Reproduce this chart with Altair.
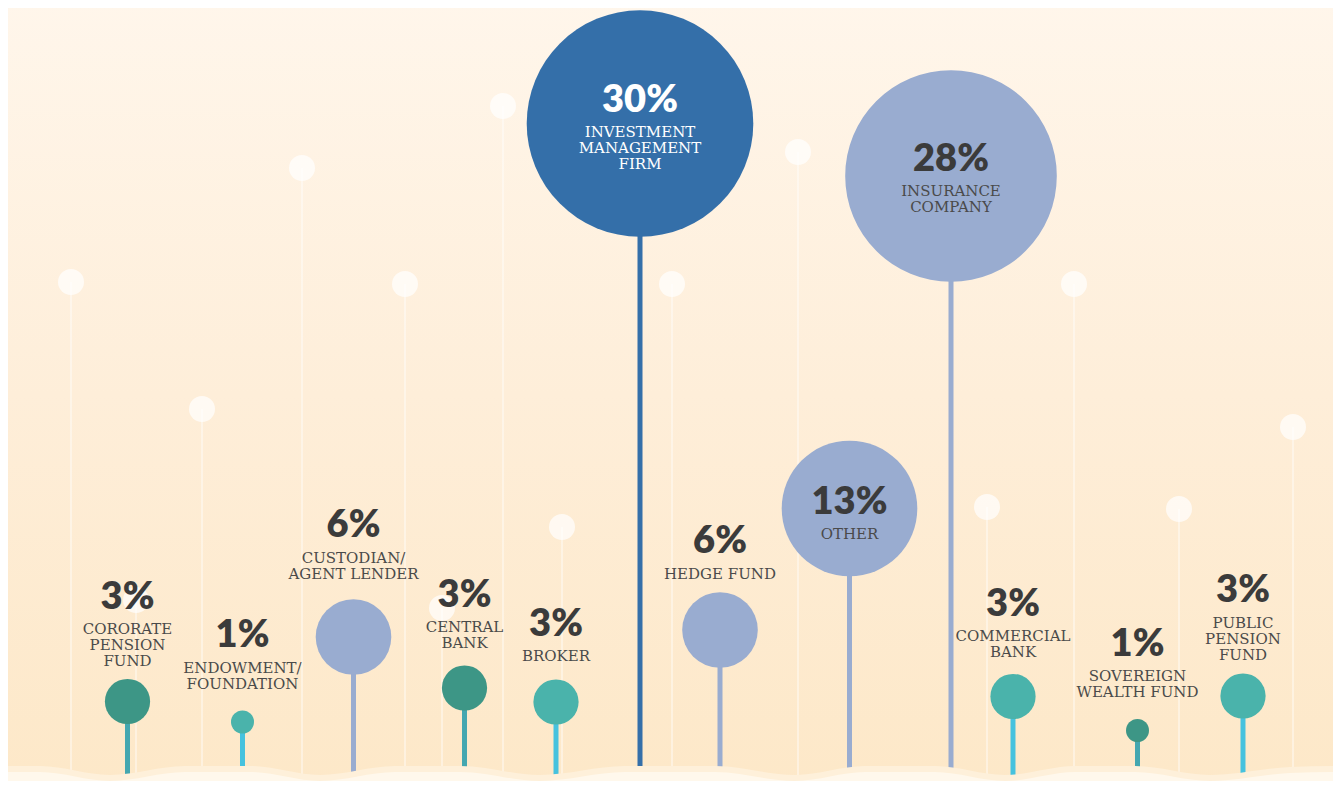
import altair as alt
import pandas as pd

# ---------------- data ----------------
categories = [
    "CORORATE\nPENSION\nFUND",
    "ENDOWMENT/\nFOUNDATION",
    "CUSTODIAN/\nAGENT LENDER",
    "CENTRAL\nBANK",
    "BROKER",
    "INVESTMENT\nMANAGEMENT\nFIRM",
    "HEDGE FUND",
    "OTHER",
    "INSURANCE\nCOMPANY",
    "COMMERCIAL\nBANK",
    "SOVEREIGN\nWEALTH FUND",
    "PUBLIC\nPENSION\nFUND",
]
shares = [3, 1, 6, 3, 3, 30, 6, 13, 28, 3, 1, 3]
kinds = ["tealdark", "teal", "lavender", "tealdark", "teal", "blue",
         "lavender", "lavender", "lavender", "teal", "tealdark", "teal"]

# ---------------- layout (1341x789 frame) ----------------
pos_x = [127.5, 242.5, 353.5, 464.5, 556, 640, 720, 849.5, 951, 1013, 1137.5, 1243]
bubble_y = [701.5, 722, 637, 688, 702, 123.5, 630, 508.5, 176, 696.5, 730.5, 696]
label_y = [595.5, 634, 524, 593.5, 622.5, 98.5, 540, 500.5, 157.5, 602.5, 642.5, 589]

deco_x = [71, 136, 202, 302, 405, 442, 503, 562, 672, 798, 987, 1074, 1179, 1293]
deco_y = [282, 600, 409, 168, 284, 608, 106, 527, 284, 152, 507, 284, 509, 427]

wave_x = [0, 40, 110, 185, 250, 320, 395, 460, 540, 625, 715, 795, 865, 935,
          1005, 1075, 1135, 1210, 1290, 1341]
wave_y = [772, 772, 781, 772, 772, 781, 772, 772, 781, 772, 772, 781, 772, 772,
          781, 772, 772, 781, 773, 772]

W, H = 1325, 773
X0, Y0 = 8, 8
X1, Y1 = X0 + W, Y0 + H
xs = alt.Scale(domain=[X0, X1], nice=False, zero=False)
ys = alt.Scale(domain=[Y0, Y1], nice=False, zero=False, reverse=True)

kind_dom = ["tealdark", "teal", "lavender", "blue"]
fill_rng = ["#3d9686", "#4ab3ab", "#99acd0", "#346fa9"]
stem_rng = ["#44a7b0", "#46c2de", "#99acd0", "#346fa9"]

main = pd.DataFrame({
    "cat": categories, "share": shares, "kind": kinds,
    "x": pos_x, "y": bubble_y, "ly": label_y, "bottom": Y1 + 20,
})
main["pct"] = main["share"].astype(str) + "%"
main["tc"] = ["#ffffff" if k == "blue" else "#3b3b3b" for k in kinds]

rows = []
for c, k, x, ly in zip(categories, kinds, pos_x, label_y):
    for i, line in enumerate(c.split("\n")):
        rows.append({"line": line, "x": x, "y": ly + 32.5 + 16 * i,
                     "tc": "#ffffff" if k == "blue" else "#4a4a4a"})
lines = pd.DataFrame(rows)

deco = pd.DataFrame({"x": deco_x, "y": deco_y, "bottom": Y1 + 20})

wave = pd.DataFrame({"x": wave_x, "y": wave_y, "bottom": Y1 + 20})
wave["y_outer"] = wave["y"] - 6

bg = pd.DataFrame({"x": [0], "x2": [1341], "y": [0], "y2": [789]})

X = lambda f: alt.X(f, type="quantitative", scale=xs, axis=None)
Y = lambda f: alt.Y(f, type="quantitative", scale=ys, axis=None)

background = alt.Chart(bg).mark_rect(
    clip=True,
    color=alt.Gradient(
        gradient="linear",
        stops=[alt.GradientStop(color="#fff6eb", offset=0),
               alt.GradientStop(color="#feeed9", offset=0.5),
               alt.GradientStop(color="#fde8c8", offset=1)],
        x1=0, x2=0, y1=0, y2=1,
    ),
).encode(x=X("x"), x2="x2", y=Y("y"), y2="y2")

deco_stems = alt.Chart(deco).mark_rule(clip=True, color="#ffffff", strokeWidth=1.5, opacity=0.55).encode(
    x=X("x"), y=Y("y"), y2="bottom")
deco_dots = alt.Chart(deco).mark_circle(color="#ffffff", opacity=0.7, size=676).encode(
    x=X("x"), y=Y("y"))

stems = alt.Chart(main).mark_rule(clip=True, strokeWidth=5).encode(
    x=X("x"), y=Y("y"), y2="bottom",
    color=alt.Color("kind:N", scale=alt.Scale(domain=kind_dom, range=stem_rng), legend=None))

bubbles = alt.Chart(main).mark_circle(opacity=1).encode(
    x=X("x"), y=Y("y"),
    fill=alt.Fill("kind:N", scale=alt.Scale(domain=kind_dom, range=fill_rng), legend=None),
    size=alt.Size("share:Q", legend=None,
                  scale=alt.Scale(type="linear", zero=False,
                                  domain=[1, 3, 6, 13, 28, 30],
                                  range=[529, 2043, 5715, 18387, 44775, 51348])))

wave_outer = alt.Chart(wave).mark_area(clip=True, interpolate="monotone", color="#fef0da").encode(
    x=X("x"), y=Y("y_outer"), y2="bottom")
wave_inner = alt.Chart(wave).mark_area(clip=True, interpolate="monotone", color="#fff8ec").encode(
    x=X("x"), y=Y("y"), y2="bottom")

pct_text = alt.Chart(main).mark_text(
    font="Lato", fontWeight=800, fontSize=38, baseline="middle", align="center", dy=2
).encode(x=X("x"), y=Y("ly"), text="pct:N", color=alt.Color("tc:N", scale=None))

line_text = alt.Chart(lines).mark_text(
    font="DejaVu Serif", fontSize=15, baseline="middle", align="center", dy=1
).encode(x=X("x"), y=Y("y"), text="line:N", color=alt.Color("tc:N", scale=None))

chart = alt.layer(
    background, deco_stems, deco_dots, stems, bubbles, wave_outer, wave_inner, pct_text, line_text
).resolve_scale(color="independent").properties(
    width=W, height=H, padding=0, autosize=alt.AutoSizeParams(type="none")
).configure_view(stroke=None)

chart.save("out.html", embed_options={"renderer": "svg", "actions": False})
